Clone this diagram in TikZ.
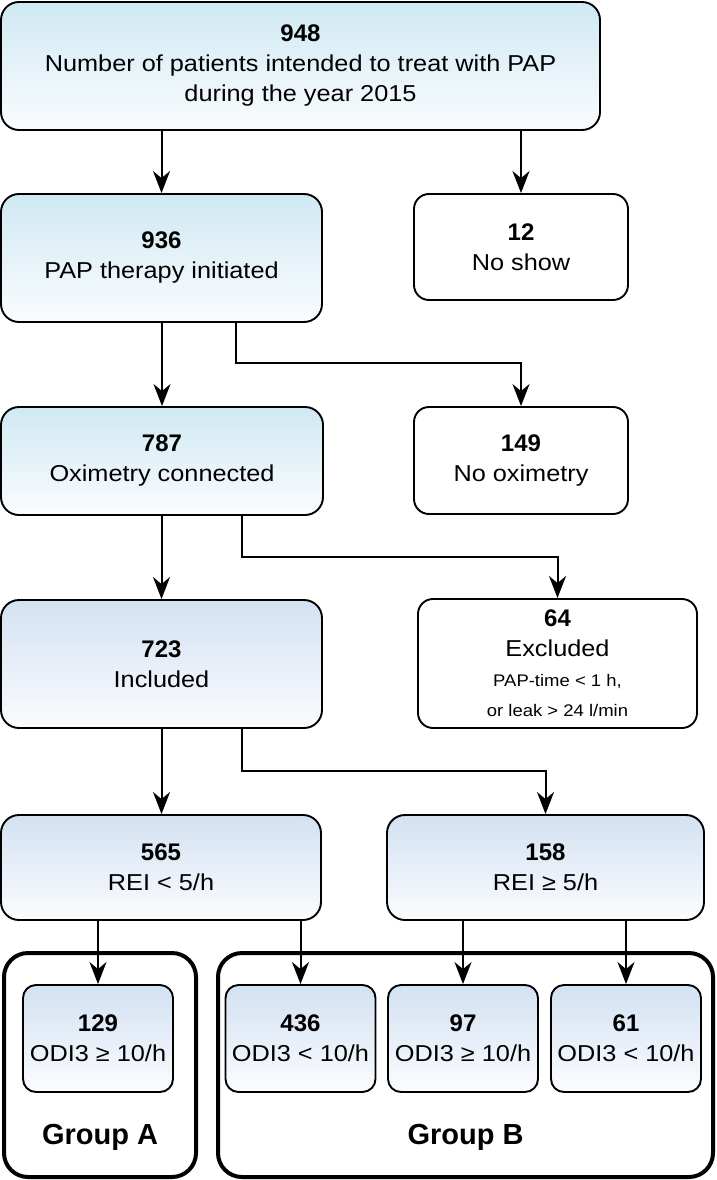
\documentclass[tikz,border=0pt]{standalone}
\usepackage{fontspec}
\setmainfont{Liberation Sans}[UprightFeatures={FakeStretch=1.1}]
\usetikzlibrary{arrows.meta,calc}
\definecolor{cyanTop}{RGB}{207,233,243}
\definecolor{blueTop}{RGB}{211,225,242}
\definecolor{boxBot}{RGB}{251,252,254}
\newcommand\nb[1]{{\fontsize{24}{30}\selectfont\bfseries #1}}
\newcommand\sm[1]{{\fontsize{16.8}{30}\selectfont #1}}
\begin{document}
\begin{tikzpicture}[x=1pt,y=-1pt,
  box/.style={draw=black, line width=1.9pt, rounded corners=18pt, rectangle, inner sep=0pt, align=center, font=\fontsize{23}{30}\selectfont},
  cbox/.style={box, top color=cyanTop, bottom color=boxBot},
  bbox/.style={box, top color=blueTop, bottom color=boxBot},
  ibox/.style={bbox, rounded corners=13pt, minimum width=150pt, minimum height=107pt},
  wbox/.style={box, fill=white, rounded corners=15pt},
  grp/.style={draw=black, line width=4pt, rounded corners=24pt, rectangle, inner sep=0pt, fill=white},
  glabel/.style={font=\fontsize{29}{34}\selectfont\bfseries},
  arr/.style={line width=2pt, -{Stealth[length=22pt,width=17pt,inset=7pt]}}
]
\useasboundingbox (0,0) rectangle (716,1180);
\fill[white] (0,0) rectangle (716,1180);

% main column
\node[cbox, minimum width=599pt, minimum height=128pt] (n948) at (300.5,66)
  {\nb{948}\\Number of patients intended to treat with PAP\\during the year 2015};
\node[cbox, minimum width=321pt, minimum height=128pt] (n936) at (161.5,258)
  {\nb{936}\\PAP therapy initiated};
\node[cbox, minimum width=322pt, minimum height=108pt] (n787) at (162,461)
  {\nb{787}\\Oximetry connected};
\node[bbox, minimum width=321pt, minimum height=128pt] (n723) at (161.5,664)
  {\nb{723}\\Included};
\node[bbox, minimum width=320pt, minimum height=105pt] (n565) at (161,867.5)
  {\nb{565}\\REI < 5/h};
\node[bbox, minimum width=317pt, minimum height=105pt] (n158) at (545.5,867.5)
  {\nb{158}\\REI ≥ 5/h};

% side boxes
\node[wbox, minimum width=214pt, minimum height=106pt] (n12) at (521,247)
  {\nb{12}\\No show};
\node[wbox, minimum width=214pt, minimum height=107pt] (n149) at (521,460.5)
  {\nb{149}\\No oximetry};
\node[wbox, minimum width=279pt, minimum height=129pt] (n64) at (557.5,663.5)
  {\nb{64}\\Excluded\\\sm{PAP-time < 1 h,}\\\sm{or leak > 24 l/min}};

% groups
\node[grp, minimum width=192pt, minimum height=224pt] (gA) at (100,1065) {};
\node[grp, minimum width=495pt, minimum height=224pt] (gB) at (465.5,1065) {};
\node[ibox] (i129) at (98,1038.5) {\nb{129}\\ODI3 ≥ 10/h};
\node[ibox] (i436) at (300.5,1038.5) {\nb{436}\\ODI3 < 10/h};
\node[ibox] (i97) at (463,1038.5) {\nb{97}\\ODI3 ≥ 10/h};
\node[ibox] (i61) at (626,1038.5) {\nb{61}\\ODI3 < 10/h};
\node[glabel] (la) at (100,1137) {Group A};
\node[glabel] (lb) at (465.5,1137) {Group B};

% elbows
\coordinate (e1) at (236,363);
\coordinate (e2) at (242,557);
\coordinate (e3) at (242,771);

% connectors
\draw[arr] (n948.south -| n936.north) -- (n936.north);
\draw[arr] (n948.south -| n12.north) -- (n12.north);
\draw[arr] (n936.south -| n787.north) -- (n787.north);
\draw[arr] (n936.south -| e1) -- (e1) -| (n149.north);
\draw[arr] (n787.south -| n723.north) -- (n723.north);
\draw[arr] (n787.south -| e2) -- (e2) -| (n64.north);
\draw[arr] (n723.south) -- (n723.south |- n565.north);
\draw[arr] (n723.south -| e3) -- (e3) -| (n158.north);
\draw[arr] (n565.south -| i129.north) -- (i129.north);
\draw[arr] (n565.south -| i436.north) -- (i436.north);
\draw[arr] (n158.south -| i97.north) -- (i97.north);
\draw[arr] (n158.south -| i61.north) -- (i61.north);
\end{tikzpicture}
\end{document}
